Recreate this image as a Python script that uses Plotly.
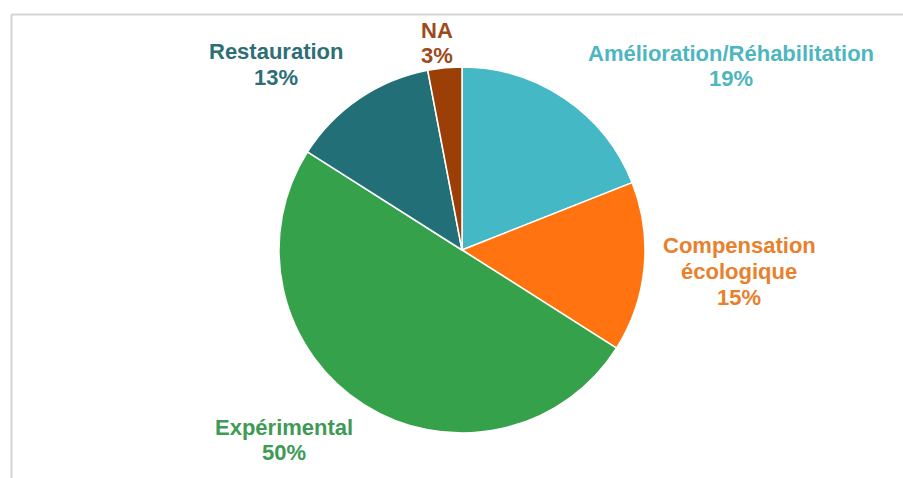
import plotly.graph_objects as go

# ---- data ----
categories = ["Amélioration/Réhabilitation", "Compensation<br>écologique", "Expérimental", "Restauration", "NA"]
values = [19, 15, 50, 13, 3]

# ---- styles / positions (pixels) ----
W, H = 903, 478
slice_colors = ["#45B8C6", "#FF7410", "#35A24B", "#236F78", "#9C3F06"]
label_colors = ["#4DB6BF", "#E8802C", "#3E9A55", "#2E6F76", "#9C4A1C"]
label_x_px = [731, 739, 284, 276, 437]
label_y0_px = [53, 246, 427, 52, 30]   # centre of first text line
line_step_px = 25.5
pie_center_px = (462, 250)
pie_radius_px = 183

cx, cy = pie_center_px
fig = go.Figure(go.Pie(
    labels=categories,
    values=values,
    sort=False,
    direction="clockwise",
    rotation=0,
    marker=dict(colors=slice_colors, line=dict(color="white", width=1.5)),
    textinfo="none",
    hoverinfo="label+percent",
    domain=dict(x=[(cx - pie_radius_px) / W, (cx + pie_radius_px) / W],
                y=[1 - (cy + pie_radius_px) / H, 1 - (cy - pie_radius_px) / H]),
    showlegend=False,
))

total = sum(values)
for cat, v, col, px, py0 in zip(categories, values, label_colors, label_x_px, label_y0_px):
    lines = cat.split("<br>") + [f"{round(100 * v / total)}%"]
    for i, line in enumerate(lines):
        fig.add_annotation(
            x=px / W, y=1 - (py0 + i * line_step_px) / H, xref="paper", yref="paper",
            text=f"<b>{line}</b>",
            showarrow=False, align="center", xanchor="center", yanchor="middle",
            font=dict(family="Liberation Sans, Arial", size=22, color=col),
        )

# frame
fig.add_shape(type="line", xref="paper", yref="paper",
              x0=11.5 / W, x1=1, y0=1 - 14.5 / H, y1=1 - 14.5 / H,
              line=dict(color="#D4D4D4", width=2))
fig.add_shape(type="line", xref="paper", yref="paper",
              x0=11.5 / W, x1=11.5 / W, y0=0, y1=1 - 14.5 / H,
              line=dict(color="#D4D4D4", width=2))

fig.update_layout(
    width=W, height=H,
    margin=dict(l=0, r=0, t=0, b=0),
    paper_bgcolor="white",
    plot_bgcolor="white",
)

fig.write_html("out.html",
               config={"displayModeBar": False},
               post_script="document.body.style.margin='0';document.body.style.overflow='hidden';")
